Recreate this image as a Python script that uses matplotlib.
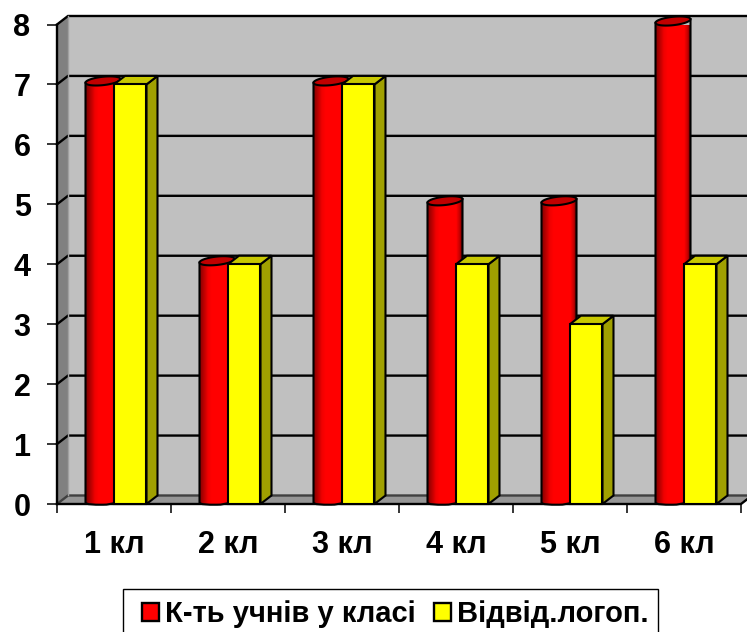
import numpy as np
import matplotlib
matplotlib.use('Agg')
import matplotlib.pyplot as plt
from matplotlib.patches import Polygon, Rectangle, PathPatch
from matplotlib.path import Path
from matplotlib.colors import LinearSegmentedColormap

classes = ["1 кл", "2 кл", "3 кл", "4 кл", "5 кл", "6 кл"]
pupils = [7, 4, 7, 5, 5, 8]
speech = [7, 4, 7, 4, 3, 4]
series_names = ["К-ть учнів у класі", "Відвід.логоп."]

plt.rcParams['font.family'] = ['Liberation Sans', 'DejaVu Sans']
plt.rcParams['font.weight'] = 'bold'

W, H = 747, 632
fig = plt.figure(figsize=(W / 100, H / 100), dpi=100)
ax = fig.add_axes([57 / W, 1 - 504 / H, (741 - 57) / W, (504 - 24.5) / H])

# - Depth of the fake 3D box in data units
dx = 11 / 114
dy = 8.5 / 59.9
y_top = 8

# - Walls and floor
ax.add_patch(Rectangle((dx, dy), 6, y_top, fc='#c0c0c0', ec='none', zorder=1, clip_on=False))
ax.add_patch(Polygon([(0, 0), (dx, dy), (dx, y_top + dy), (0, y_top)], fc='#808080',
                     ec='none', zorder=1, clip_on=False))
ax.add_patch(Polygon([(0, 0), (6, 0), (6 + dx, dy), (dx, dy)], fc='#969696',
                     ec='none', zorder=1, clip_on=False))

# - Grid lines run over the left wall and the back wall
for v in range(0, y_top + 1):
    col = '#404040' if v == 0 else 'black'
    ax.plot([0, dx, 6 + dx], [v, v + dy, v + dy], color=col, lw=1.7, zorder=2,
            clip_on=False, solid_joinstyle='miter')
ax.plot([dx, dx], [dy, y_top + dy], color='#a0a0a0', lw=1, zorder=2, clip_on=False)
ax.plot([0, 0], [0, y_top], color='black', lw=1.7, zorder=3, clip_on=False)
ax.plot([0, 6, 6 + dx], [0, 0, dy], color='black', lw=1.7, zorder=3, clip_on=False)

# - Bars
red_map = LinearSegmentedColormap.from_list('cyl', [(0, '#800000'), (.25, '#f00000'), (.35, '#ff0000'),
                                                    (.85, '#ff0000'), (.95, '#c00000'), (1, '#800000')])
grad = np.linspace(0, 1, 40).reshape(1, -1)
red_left = 0.25
red_w = 35 / 114
ell_h = 4.2 / 59.9
tilt = 1.8 / 59.9
lift = 3.5 / 59.9
yel_left = 0.5
yel_w = 0.285

for i in range(len(classes)):
    # -- Red cylinder
    x0 = i + red_left
    x1 = x0 + red_w
    xm = (x0 + x1) / 2
    top = pupils[i] + lift
    base = lift
    k = 0.5523
    rx = red_w / 2
    verts = [(x0, base - tilt), (x0, top - tilt), (x1, top + tilt), (x1, base + tilt),
             (x1, base + tilt - ell_h * k), (xm + rx * k, base - ell_h), (xm, base - ell_h),
             (xm - rx * k, base - ell_h), (x0, base - tilt - ell_h * k), (x0, base - tilt), (x0, base - tilt)]
    codes = [Path.MOVETO, Path.LINETO, Path.LINETO, Path.LINETO,
             Path.CURVE4, Path.CURVE4, Path.CURVE4,
             Path.CURVE4, Path.CURVE4, Path.CURVE4, Path.CLOSEPOLY]
    body = PathPatch(Path(verts, codes), fc='none', ec='black', lw=1.5, zorder=5, clip_on=False)
    ax.add_patch(body)
    im = ax.imshow(grad, cmap=red_map, extent=(x0, x1, -0.2, top + 0.2), aspect='auto', zorder=4,
                   interpolation='bilinear', vmin=0, vmax=1)
    im.set_clip_path(Path(verts, codes), ax.transData)
    t = np.linspace(0, 2 * np.pi, 80)
    ax.add_patch(Polygon(np.c_[xm + rx * np.cos(t), top + ell_h * np.sin(t) + tilt * np.cos(t)],
                         fc='#c00000', ec='black', lw=1.5, zorder=6, clip_on=False))

    # -- Yellow box
    xa = i + yel_left
    xb = xa + yel_w
    h = speech[i]
    ax.add_patch(Polygon([(xb, 0), (xb + dx, dy), (xb + dx, h + dy), (xb, h)], fc='#a0a000',
                         ec='black', lw=1.5, zorder=7, clip_on=False))
    ax.add_patch(Polygon([(xa, h), (xb, h), (xb + dx, h + dy), (xa + dx, h + dy)], fc='#c8c800',
                         ec='black', lw=1.5, zorder=7, clip_on=False))
    ax.add_patch(Rectangle((xa, 0), yel_w, h, fc='#ffff00', ec='black', lw=1.5, zorder=8,
                           clip_on=False))

ax.set_xlim(0, 6)
ax.set_ylim(0, y_top)

# - Axes and labels
ax.patch.set_visible(False)
for s in ax.spines.values():
    s.set_visible(False)
ax.set_yticks(range(0, y_top + 1))
ax.tick_params(axis='y', length=7, width=1.1, labelsize=22, pad=12)
ax.set_xticks(range(0, 7))
ax.set_xticklabels([])
ax.tick_params(axis='x', which='major', length=6.5, width=1.1)
ax.set_xticks(np.arange(6) + 0.5, labels=classes, minor=True)
ax.tick_params(axis='x', which='minor', length=0, labelsize=22, pad=19)

# - Legend box is cut by the bottom edge of the picture
fig.add_artist(Rectangle((123 / W, -0.02), (658 - 123) / W, 1 - 589 / H + 0.02, fc='white', ec='black',
                         lw=1, transform=fig.transFigure))
handles = [Rectangle((0, 0), 1, 1, fc='#ff0000', ec='black', lw=1.7),
           Rectangle((0, 0), 1, 1, fc='#ffff00', ec='black', lw=1.7)]
leg = fig.legend(handles, series_names, ncol=2, loc='upper left',
                 bbox_to_anchor=(142 / W, 1 - 600 / H), bbox_transform=fig.transFigure,
                 fontsize=21, frameon=False, borderaxespad=0, borderpad=0, handlelength=0.58,
                 handleheight=0.58, handletextpad=0.22, columnspacing=0.62)

fig.savefig('out.png', dpi=100)
